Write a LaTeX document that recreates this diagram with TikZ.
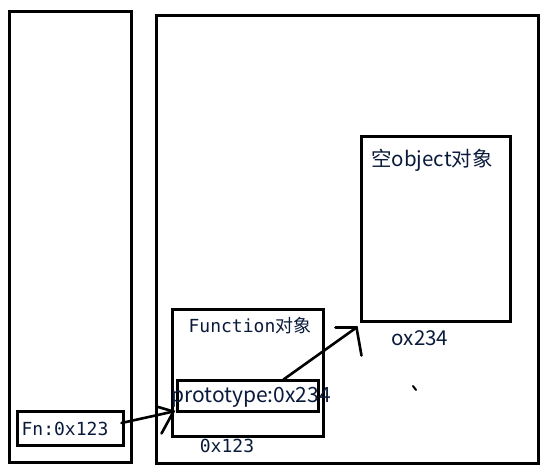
\documentclass[tikz,border=0pt]{standalone}
\usepackage{fontspec}
\setmainfont{Noto Sans CJK SC}
\setmonofont{DejaVu Sans Mono}
\newfontfamily\cjk{Noto Sans CJK SC}
\usepackage{xcolor}
\usepackage{tikz}
\usetikzlibrary{calc}
\definecolor{InkBlack}{HTML}{000000}
\definecolor{TextNavy}{HTML}{0A1A3A}

\begin{document}
\begin{tikzpicture}[x=1pt,y=-1pt,
  box/.style={draw=InkBlack,line width=3pt,inner sep=0pt},
  pen/.style={InkBlack,line width=2.6pt,line cap=round},
  mono/.style={TextNavy,font=\fontsize{18}{20}\selectfont\ttfamily,inner sep=0pt},
  yahei/.style={TextNavy,font=\fontsize{20.5}{22}\selectfont,inner sep=0pt}]
  \useasboundingbox (0,0) rectangle (550,476);
  \node[box,minimum width=122pt,minimum height=451pt] (stack) at (70,237.5) {};
  \node[box,minimum width=382pt,minimum height=448pt] (heap) at (347,240) {};
  \node[box,minimum width=106pt,minimum height=34pt] (fnbox) at (70,429) {};
  \node[box,minimum width=151pt,minimum height=127pt] (funcobj) at (247.5,373.5) {};
  \node[box,minimum width=141pt,minimum height=31pt] (proto) at (247.5,396.5) {};
  \node[box,minimum width=149pt,minimum height=185pt] (emptyobj) at (435.5,229.5) {};
  \node[mono] (fnlbl) at (65,429) {Fn:0x123};
  \node[mono] (funclbl) at (250,326) {Function{\cjk 对象}};
  \node[yahei,font=\fontsize{21}{22}\selectfont] (protolbl) at (251,397) {prototype:0x234};
  \node[mono] (addr1) at (227,446) {0x123};
  \node[yahei] (objlbl) at (432,160) {空object对象};
  \node[yahei] (addr2) at (420,338) {ox234};
  \coordinate (tipa) at ($(proto.south west)+(-2,-2)$);
  \coordinate (tipb) at ($(emptyobj.south west)+(-3,4)$);
  \draw[pen] ($(fnbox.east)+(-3,-6)$) -- (tipa);
  \draw[pen] ($(tipa)+(-17,-5)$) -- (tipa) -- ($(tipa)+(-12,22)$);
  \draw[pen] ($(proto.north)+(36,0)$) -- (tipb);
  \draw[pen] ($(tipb)+(-21,0)$) -- (tipb) -- ($(tipb)+(5,28)$);
  \draw[pen,line width=2pt] (413,386) -- (416,390);
\end{tikzpicture}
\end{document}
